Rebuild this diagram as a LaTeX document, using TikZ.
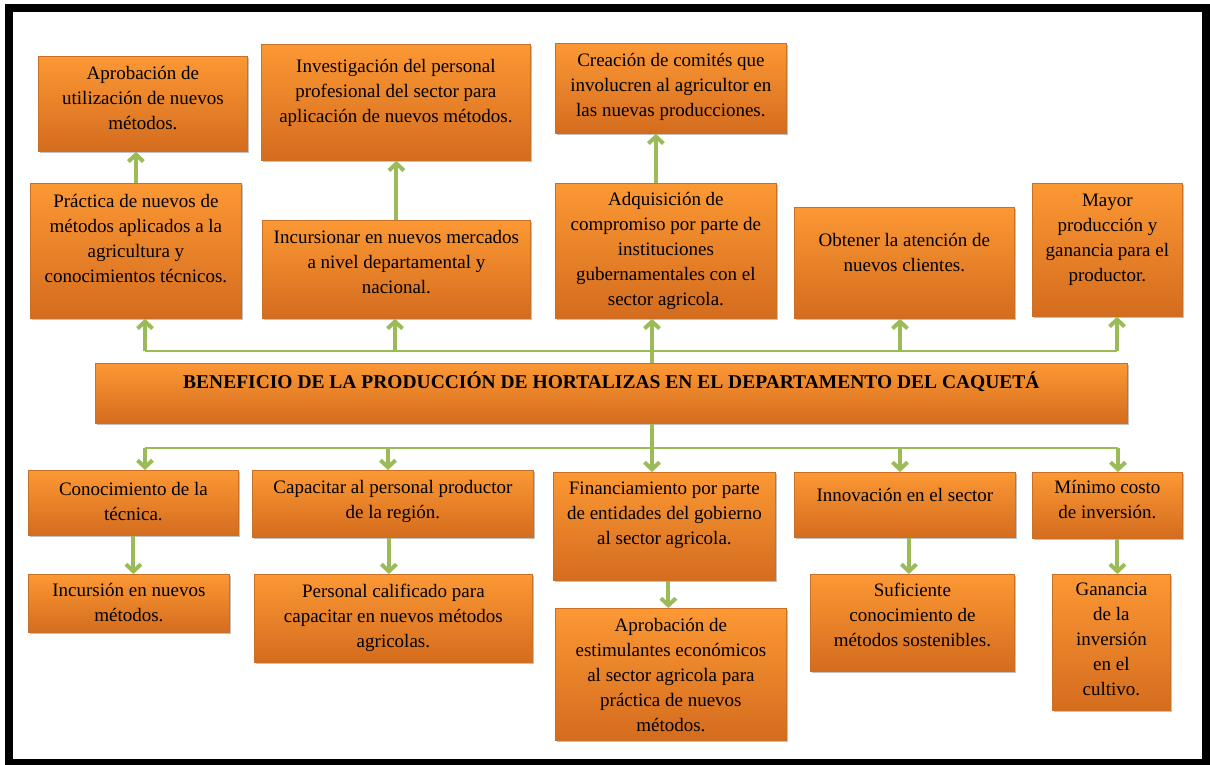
\documentclass[tikz,border=0pt]{standalone}
\usepackage{fontspec}
\setmainfont{Liberation Serif}
\usetikzlibrary{arrows.meta,shadows}
\definecolor{naranjaA}{RGB}{252,152,52}
\definecolor{naranjaB}{RGB}{212,108,30}
\definecolor{borde}{RGB}{200,112,40}
\definecolor{verde}{RGB}{155,187,89}
\tikzset{
	caja/.style={draw=borde, line width=.8pt, top color=naranjaA, bottom color=naranjaB,
		drop shadow={shadow xshift=2pt, shadow yshift=-2pt, opacity=.35, fill=black!70},
		anchor=north west, inner sep=0pt},
	texto/.style={anchor=north, align=center, inner sep=0pt,
		font=\fontsize{19}{25}\selectfont, execute at begin node=\strut},
	flecha/.style={draw=verde, line width=4pt, -{Straight Barb[length=7pt,width=15pt]}},
	linea/.style={draw=verde, line width=1.6pt},
}
\begin{document}
\begin{tikzpicture}[x=1pt, y=-1pt]
	\useasboundingbox (0,0) rectangle (1210,764);
	\draw[line width=8pt] (9,8) rectangle (1206,763);
	% cajas de arriba
	\node[caja, minimum width=209pt, minimum height=95pt]  (a1) at (38,56)   {};
	\node[caja, minimum width=269pt, minimum height=116pt] (a2) at (261,44)  {};
	\node[caja, minimum width=231pt, minimum height=90pt]  (a3) at (555,43)  {};
	\node[caja, minimum width=211pt, minimum height=135pt] (b1) at (30,183)  {};
	\node[caja, minimum width=268pt, minimum height=98pt]  (b2) at (262,220) {};
	\node[caja, minimum width=221pt, minimum height=135pt] (b3) at (555,183) {};
	\node[caja, minimum width=220pt, minimum height=111pt] (b4) at (794,207) {};
	\node[caja, minimum width=150pt, minimum height=133pt] (b5) at (1032,183) {};
	\node[texto] (a1t) at ([yshift=-10pt]a1.north) {Aprobación de\\utilización de nuevos\\métodos.};
	\node[texto] (a2t) at ([yshift=-15pt]a2.north) {Investigación del personal\\profesional del sector para\\aplicación de nuevos métodos.};
	\node[texto] (a3t) at ([yshift=-10pt]a3.north) {Creación de comités que\\involucren al agricultor en\\las nuevas producciones.};
	\node[texto] (b1t) at ([yshift=-11pt]b1.north) {Práctica de nuevos de\\métodos aplicados a la\\agricultura y\\conocimientos técnicos.};
	\node[texto] (b2t) at ([yshift=-10pt]b2.north) {Incursionar en nuevos mercados\\a nivel departamental y\\nacional.};
	\node[texto] (b3t) at ([yshift=-9pt]b3.north)  {Adquisición de\\compromiso por parte de\\instituciones\\gubernamentales con el\\sector agricola.};
	\node[texto] (b4t) at ([yshift=-26pt]b4.north) {Obtener la atención de\\nuevos clientes.};
	\node[texto] (b5t) at ([yshift=-11pt]b5.north) {Mayor\\producción y\\ganancia para el\\productor.};
	% caja central
	\node[caja, minimum width=1032pt, minimum height=60pt] (cen) at (95,363) {};
	\node[font=\fontsize{19.5}{22}\selectfont\bfseries, inner sep=0pt] (cent) at ([yshift=-19pt]cen.north)
		{BENEFICIO DE LA PRODUCCIÓN DE HORTALIZAS EN EL DEPARTAMENTO DEL CAQUETÁ};
	% cajas de abajo
	\node[caja, minimum width=210pt, minimum height=65pt]  (c1) at (28,470)   {};
	\node[caja, minimum width=281pt, minimum height=67pt]  (c2) at (252,470)  {};
	\node[caja, minimum width=222pt, minimum height=108pt] (c3) at (553,472)  {};
	\node[caja, minimum width=221pt, minimum height=65pt]  (c4) at (794,472)  {};
	\node[caja, minimum width=150pt, minimum height=66pt]  (c5) at (1032,472) {};
	\node[caja, minimum width=201pt, minimum height=58pt]  (d1) at (28,574)   {};
	\node[caja, minimum width=278pt, minimum height=88pt]  (d2) at (254,574)  {};
	\node[caja, minimum width=231pt, minimum height=132pt] (d3) at (555,608)  {};
	\node[caja, minimum width=204pt, minimum height=97pt]  (d4) at (810,574)  {};
	\node[caja, minimum width=118pt, minimum height=136pt] (d5) at (1052,574) {};
	\node[texto] (c1t) at ([yshift=-12pt]c1.north) {Conocimiento de la\\técnica.};
	\node[texto] (c2t) at ([yshift=-10pt]c2.north) {Capacitar al personal productor\\de la región.};
	\node[texto] (c3t) at ([yshift=-10pt]c3.north) {Financiamiento por parte\\de entidades del gobierno\\al sector agricola.};
	\node[texto] (c4t) at ([yshift=-12pt]c4.north) {Innovación en el sector};
	\node[texto] (c5t) at ([yshift=-8pt]c5.north)  {Mínimo costo\\de inversión.};
	\node[texto] (d1t) at ([yshift=-9pt]d1.north)  {Incursión en nuevos\\métodos.};
	\node[texto] (d2t) at ([yshift=-10pt]d2.north) {Personal calificado para\\capacitar en nuevos métodos\\agricolas.};
	\node[texto] (d3t) at ([yshift=-10pt]d3.north) {Aprobación de\\estimulantes económicos\\al sector agricola para\\práctica de nuevos\\métodos.};
	\node[texto] (d4t) at ([yshift=-9pt]d4.north)  {Suficiente\\conocimiento de\\métodos sostenibles.};
	\node[texto] (d5t) at ([yshift=-9pt]d5.north)  {Ganancia\\de la\\inversión\\en el\\cultivo.};
	% conectores
	\coordinate (s1) at (145,351);  \coordinate (s2) at (395,351);  \coordinate (s3) at (652,351);
	\coordinate (s4) at (900,351);  \coordinate (s5) at (1117,351);
	\coordinate (i1) at (145,448);  \coordinate (i2) at (388,448);  \coordinate (i3) at (652,448);
	\coordinate (i4) at (900,448);  \coordinate (i5) at (1118,448);
	\draw[linea] (s1) -- (s5);
	\draw[linea] (i1) -- (i5);
	\draw[flecha] (s1) -- (s1 |- b1.south);
	\draw[flecha] (s2) -- (s2 |- b2.south);
	\draw[flecha] (cen.north -| s3) -- (s3 |- b3.south);
	\draw[flecha] (s4) -- (s4 |- b4.south);
	\draw[flecha] (s5) -- (s5 |- b5.south);
	\draw[flecha] (cen.south -| i3) -- (i3 |- c3.north);
	\draw[flecha] (i1) -- (i1 |- c1.north);
	\draw[flecha] (i2) -- (i2 |- c2.north);
	\draw[flecha] (i4) -- (i4 |- c4.north);
	\draw[flecha] (i5) -- (i5 |- c5.north);
	\draw[flecha] (b1.north) -- (b1.north |- a1.south);
	\draw[flecha] (b2.north) -- (b2.north |- a2.south);
	\draw[flecha] ([xshift=-10pt]b3.north) -- ([xshift=-10pt]b3.north |- a3.south);
	\draw[flecha] (c1.south) -- (c1.south |- d1.north);
	\draw[flecha] ([xshift=-4pt]c2.south) -- ([xshift=-4pt]c2.south |- d2.north);
	\draw[flecha] ([xshift=4pt]c3.south) -- ([xshift=4pt]c3.south |- d3.north);
	\draw[flecha] ([xshift=4pt]c4.south) -- ([xshift=4pt]c4.south |- d4.north);
	\draw[flecha] ([xshift=10pt]c5.south) -- ([xshift=10pt]c5.south |- d5.north);
\end{tikzpicture}
\end{document}
